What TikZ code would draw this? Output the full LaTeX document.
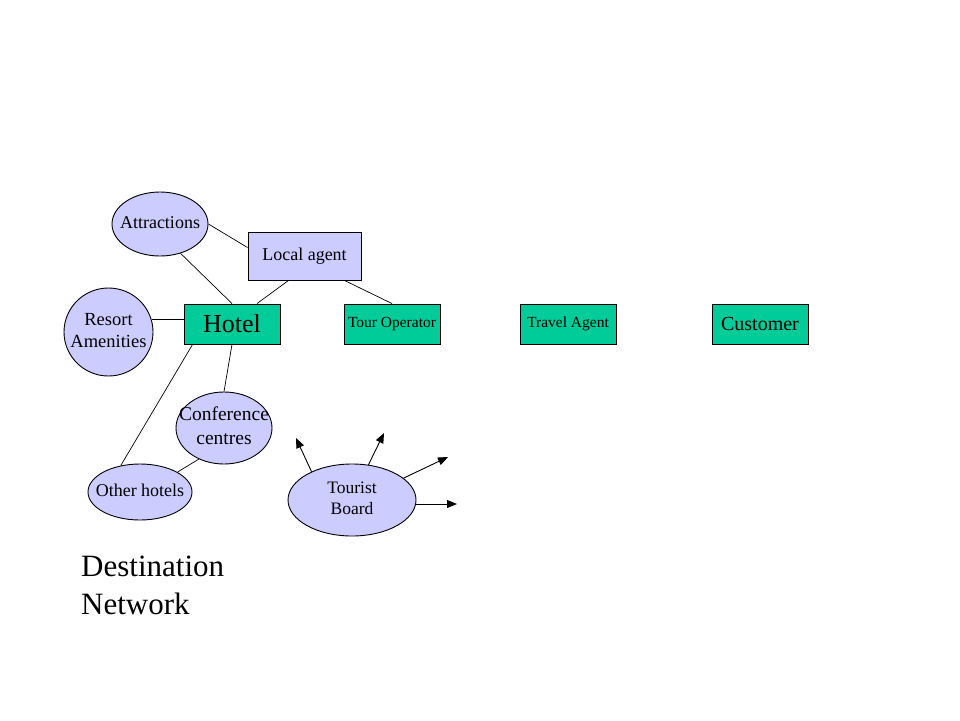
\documentclass[tikz,border=0pt]{standalone}
\usepackage{fontspec}
\setmainfont{Liberation Serif}
\usetikzlibrary{shapes.geometric,arrows.meta}
\definecolor{lav}{RGB}{204,204,255}
\definecolor{grn}{RGB}{0,204,153}
\newcommand{\ztext}[1]{\raisebox{-2pt}{\makebox[0pt][c]{\begin{tabular}{@{}c@{}}#1\end{tabular}}}}
\tikzset{
  oval/.style={ellipse,draw=black,fill=lav,line width=0.9pt,inner sep=0pt},
  gbox/.style={rectangle,draw=black,fill=grn,line width=0.9pt,inner sep=0pt,minimum width=96pt,minimum height=40pt,align=center},
  lbox/.style={rectangle,draw=black,fill=lav,line width=0.9pt,inner sep=0pt,minimum width=113pt,minimum height=48pt},
  link/.style={draw=black,line width=0.7pt},
  arr/.style={draw=black,line width=0.9pt,-{Triangle[length=10pt,width=8pt]}},
  fs/.style={font=\fontsize{18}{22}\selectfont}
}
\begin{document}
\begin{tikzpicture}[x=1pt,y=-1pt]
\useasboundingbox (0,0) rectangle (960,720);
\fill[white] (0,0) rectangle (960,720);
\node[oval,minimum width=96pt,minimum height=64pt,fs] (attr) at (160,224) {\ztext{Attractions}};
\node[lbox,fs] (local) at (304.5,256) {\raisebox{-1pt}{Local agent}};
\node[gbox,font=\fontsize{26}{30}\selectfont] (hotel) at (232,324) {Hotel};
\node[oval,minimum width=89pt,minimum height=88pt,font=\fontsize{18.5}{22}\selectfont] (resort) at (108.5,332) {\ztext{Resort\\Amenities}};
\node[gbox,font=\fontsize{15.5}{18}\selectfont] (tour) at (392,324) {\raisebox{-1pt}{Tour Operator}};
\node[gbox,font=\fontsize{15.5}{18}\selectfont] (travel) at (568,324) {\raisebox{-1pt}{Travel Agent}};
\node[gbox,font=\fontsize{20}{24}\selectfont] (cust) at (760,324) {\raisebox{-1pt}{Customer}};
\node[oval,minimum width=96pt,minimum height=72pt,font=\fontsize{19.5}{24}\selectfont] (conf) at (224,428) {\ztext{Conference\\centres}};
\node[oval,minimum width=104pt,minimum height=56pt,fs] (other) at (140,492) {\ztext{Other hotels}};
\node[oval,minimum width=128pt,minimum height=72pt,font=\fontsize{17.5}{21}\selectfont] (tb) at (352,500) {\ztext{Tourist\\Board}};
\coordinate (ta) at (296,438);
\coordinate (tbb) at (384,433);
\coordinate (tc) at (448,457);
\coordinate (td) at (457,504);
% connectors
\draw[link] (attr.east) -- ([yshift=-16pt]local.north west);
\draw[link] (attr.-55) -- (hotel.north);
\draw[link] ([xshift=-16pt]local.south) -- ([xshift=25pt]hotel.north);
\draw[link] ([xshift=40pt]local.south) -- (tour.north);
\draw[link] (resort.16) -- (resort.16 -| hotel.west);
\draw[link] ([xshift=9pt]hotel.south west) -- (other.126);
\draw[link] (hotel.south) -- (conf.north);
\draw[link] (conf.-129) -- (other.28);
\draw[arr] (tb.145) -- (ta);
\draw[arr] (tb.65) -- (tbb);
\draw[arr] (tb.23) -- (tc);
\draw[arr] (tb.east |- td) -- (td);
\node[anchor=west,align=left,inner sep=0pt,font=\fontsize{31}{38}\selectfont] (title) at (81,585.5) {Destination\\Network};
\end{tikzpicture}
\end{document}
